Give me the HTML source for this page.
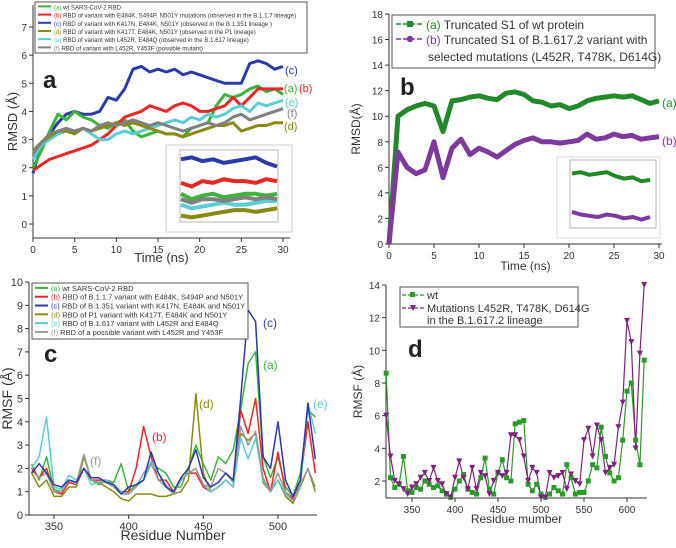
<!DOCTYPE html>
<html><head><meta charset="utf-8"><style>
body{margin:0;background:#fff;width:676px;height:543px;overflow:hidden;font-family:"Liberation Sans",sans-serif}
svg text{font-family:"Liberation Sans",sans-serif}
</style></head><body>
<svg id="fig" width="676" height="543" viewBox="0 0 676 543" xmlns="http://www.w3.org/2000/svg"></svg>
<script>
// ---------- Panel a data (time ns, RMSD Å) ----------
const timeA=[0,1,2,3,4,5,6,7,8,9,10,11,12,13,14,15,16,17,18,19,20,21,22,23,24,25,26,27,28,29,30];
const aWt=[2.0,2.6,3.3,3.9,3.7,4.0,3.8,3.7,3.5,3.4,3.6,3.7,3.3,3.1,3.2,3.3,3.2,3.2,3.1,3.4,3.5,3.6,4.2,4.6,4.5,4.6,4.8,4.9,4.7,4.8,4.6];
const aB117=[1.9,2.1,2.3,2.4,2.5,2.6,2.7,2.8,3.0,3.2,3.5,3.8,3.9,4.0,4.2,4.1,4.0,4.2,4.3,4.2,4.0,4.0,4.1,4.2,4.5,4.2,4.5,4.8,4.8,4.8,4.8];
const aB1351=[1.8,2.8,3.2,3.6,3.9,4.0,3.9,3.9,4.0,4.5,4.4,4.8,5.5,5.6,5.4,5.5,5.4,5.5,5.3,5.4,5.3,5.2,5.1,5.0,5.0,5.0,5.7,5.8,5.7,5.5,5.6];
const aP1=[2.6,2.9,3.1,3.3,3.3,3.2,3.4,3.3,3.4,3.5,3.6,3.5,3.6,3.5,3.4,3.3,3.2,3.2,3.1,3.2,3.3,3.4,3.5,3.5,3.6,3.3,3.4,3.5,3.5,3.6,3.6];
const aB1617=[2.3,2.8,3.0,3.2,3.3,3.3,3.4,3.2,3.0,3.0,3.2,3.3,3.2,3.3,3.4,3.5,3.6,3.7,3.6,3.8,3.7,3.9,3.8,3.9,4.1,4.2,4.0,4.3,4.2,4.3,4.4];
const aPossible=[2.5,2.9,3.2,3.3,3.4,3.3,3.4,3.3,3.5,3.6,3.5,3.6,3.7,3.6,3.5,3.6,3.5,3.4,3.3,3.4,3.5,3.6,3.5,3.6,3.8,3.9,3.7,3.8,3.9,4.0,4.1];
const aTicksX=[0,5,10,15,20,25,30];
const aTicksY=[0,1,2,3,4,5,6,7];
// ---------- Panel b data ----------
const timeB=[0,1,2,3,4,5,6,7,8,9,10,11,12,13,14,15,16,17,18,19,20,21,22,23,24,25,26,27,28,29,30];
const bWt=[0,10,10.5,10.8,11,10.8,8.8,11.2,11.3,11.5,11.6,11.4,11.3,11.8,11.9,11.7,11.2,11.1,10.8,10.9,10.6,10.8,11.2,11.4,11.5,11.6,11.5,11.6,11.3,11.0,11.2];
const bMut=[0,7.2,6.0,5.5,5.8,8.0,5.2,7.5,8.2,7.0,7.5,7.2,6.8,7.3,7.8,8.1,8.3,8.0,8.0,7.9,8.0,8.1,8.6,8.2,8.3,8.6,8.4,8.5,8.2,8.3,8.4];
const bTicksX=[0,5,10,15,20,25,30];
const bTicksY=[0,2,4,6,8,10,12,14,16,18];
// ---------- Panel c data (residue, RMSF) ----------
const resC=[335,340,345,350,355,360,365,370,375,380,385,390,395,400,405,410,415,420,425,430,435,440,445,450,455,460,465,470,475,480,485,490,495,500,505,510,515,520,525];
const cWt=[2.2,1.5,2.5,1.1,1.0,1.5,1.4,2.0,1.5,1.3,1.5,1.4,2.2,1.0,1.3,1.5,2.2,2.0,1.8,1.2,1.2,2.0,3.0,2.2,1.5,2.5,2.2,2.8,4.5,6.5,7.0,2.5,1.6,2.5,1.2,0.8,1.8,4.5,4.2];
const cB117=[2.0,1.6,2.0,1.0,0.9,1.4,1.3,2.0,1.5,1.5,1.5,1.3,1.0,1.0,2.0,3.8,2.5,1.5,1.5,1.0,1.5,1.8,1.8,1.2,1.0,1.2,1.5,1.2,4.5,3.5,5.0,2.0,1.0,2.7,1.0,0.7,1.5,4.0,1.8];
const cB1351=[1.8,2.2,1.8,1.3,1.2,1.5,1.4,2.0,1.6,1.6,1.4,1.3,0.9,1.2,1.3,1.5,2.7,1.8,1.2,1.0,1.6,2.0,2.8,1.6,1.2,1.4,1.8,1.5,5.0,8.8,8.3,2.5,2.0,4.0,1.5,0.8,1.5,4.8,2.4];
const cP1=[1.8,1.2,1.5,0.8,0.8,1.2,1.2,2.5,1.5,1.4,1.2,1.0,0.7,0.6,0.9,0.9,0.9,0.8,0.8,0.9,1.0,1.5,5.2,1.8,1.0,1.2,1.5,1.2,3.5,3.2,3.5,1.4,1.0,1.5,0.8,0.5,1.2,2.0,1.0];
const cB1617=[2.0,2.5,4.2,1.2,1.1,1.7,1.5,2.0,1.3,1.4,1.5,1.3,1.0,0.9,1.2,1.5,2.3,1.8,1.3,0.9,1.5,1.8,2.0,1.3,1.0,1.2,1.5,1.2,3.3,2.4,3.3,1.5,1.0,1.5,0.9,0.6,1.2,4.8,3.5];
const cPossible=[1.9,1.6,1.8,1.0,1.0,1.5,1.4,2.6,1.5,1.4,1.4,1.2,0.9,0.9,1.2,1.8,2.2,1.5,1.2,0.9,1.5,1.8,2.0,1.3,1.2,2.0,1.8,1.4,3.8,3.0,3.6,1.6,1.0,1.8,1.0,0.6,1.3,2.0,1.2];
const cTicksX=[350,400,450,500];
const cTicksY=[0,1,2,3,4,5,6,7,8,9,10];
// ---------- Panel d data ----------
const resD=[320,325,330,335,340,345,350,355,360,365,370,375,380,385,390,395,400,405,410,415,420,425,430,435,440,445,450,455,460,465,470,475,480,485,490,495,500,505,510,515,520,525,530,535,540,545,550,555,560,565,570,575,580,585,590,595,600,605,610,615,620];
const dWt=[8.6,2.2,1.6,1.8,3.5,1.4,1.3,1.6,1.5,2.0,1.8,1.6,1.7,1.4,1.2,1.0,1.5,2.0,2.4,1.5,1.3,1.2,2.2,3.4,1.5,1.2,2.5,3.3,2.2,2.0,5.5,5.6,5.7,1.8,1.4,1.8,1.2,0.9,1.2,1.6,1.4,1.2,3.0,2.2,1.2,1.3,1.3,2.0,3.0,2.8,5.3,3.5,2.5,2.0,2.2,4.5,7.5,8.0,4.5,3.0,9.4];
const dMut=[6.0,3.5,2.0,1.8,1.5,1.2,1.6,1.8,2.2,2.5,2.0,2.8,2.0,1.8,1.2,1.0,2.2,3.2,2.2,1.5,2.8,1.5,2.5,2.3,1.2,2.0,2.5,2.3,2.5,4.8,4.8,4.5,3.5,2.0,2.8,2.5,1.0,1.0,2.5,2.2,2.3,2.5,1.5,2.4,2.0,1.8,4.5,5.2,3.5,5.4,4.5,2.5,2.8,3.0,5.3,6.8,11.8,10.5,4.0,9.8,14];
const dTicksX=[350,400,450,500,550,600];
const dTicksY=[2,4,6,8,10,12,14];
// ---------- insets ----------
const insA=[[5.8,5.9,5.7,5.8,5.6,5.7,5.8,5.9,5.6,5.4],[4.5,4.3,4.6,4.5,4.7,4.6,4.6,4.5,4.7,4.6],[3.9,3.6,3.8,3.9,3.7,3.8,3.9,3.9,3.8,3.9],[3.3,3.1,3.2,3.3,3.4,3.3,3.3,3.4,3.5,3.5],[3.6,3.4,3.6,3.6,3.5,3.6,3.7,3.6,3.7,3.6],[2.7,2.6,2.7,2.8,2.9,3.0,3.0,2.9,3.0,3.1]];
const insB=[[11.6,11.7,11.5,11.6,11.7,11.4,11.2,11.3,11.0,11.1],[8.6,8.4,8.3,8.2,8.4,8.3,8.1,8.2,8.0,8.2]];

const svg=document.getElementById('fig');
const NS='http://www.w3.org/2000/svg';
function el(tag,attrs,parent){const e=document.createElementNS(NS,tag);for(const k in attrs)e.setAttribute(k,attrs[k]);(parent||svg).appendChild(e);return e;}
function txt(s,x,y,size,fill,extra,parent){const t=el('text',Object.assign({x:x,y:y,'font-size':size,fill:fill||'#222'},extra||{}),parent);t.textContent=s;return t;}
function scale(d0,d1,r0,r1){return v=>r0+(v-d0)*(r1-r0)/(d1-d0);}

function axes(p){
  const g=el('g',{});
  
  
  el('line',{x1:p.x0,y1:p.yb,x2:p.x1,y2:p.yb,stroke:'#333','stroke-width':1},g);
  el('line',{x1:p.x0,y1:p.yb,x2:p.x0,y2:p.yt,stroke:'#333','stroke-width':1},g);
  p.tx.forEach(v=>{const x=p.sx(v);el('line',{x1:x,y1:p.yb,x2:x,y2:p.yb+4,stroke:'#333'},g);
    const t=txt(String(v),x,p.yb+15,p.fs,'#333',{'text-anchor':'middle'},g);});
  p.ty.forEach(v=>{const y=p.sy(v);el('line',{x1:p.x0-4,y1:y,x2:p.x0,y2:y,stroke:'#333'},g);
    const t=txt(String(v),p.x0-6,y+4,p.fs,'#333',{'text-anchor':'end'},g);});
  const xt=txt(p.xl,(p.x0+p.x1)/2,p.xly,p.tfs,'#333',{'text-anchor':'middle'},g);
  
  const yt=txt(p.yl,0,0,p.tfs,'#333',{'text-anchor':'middle',transform:`translate(${p.ylx},${(p.yt+p.yb)/2}) rotate(-90)`},g);
  
}
function line(xs,ys,sx,sy,color,w,name,clipMin){
  const pts=xs.map((x,i)=>sx(x).toFixed(1)+','+sy(clipMin!==undefined?Math.max(clipMin,ys[i]):ys[i]).toFixed(1)).join(' ');
  const l=el('polyline',{points:pts,fill:'none',stroke:color,'stroke-width':w,'stroke-linejoin':'round'});
  
  
  return l;
}
function legend(x,y,w,h,items,fs,lh){
  const g=el('g',{});
  
  
  el('rect',{x:x,y:y,width:w,height:h,fill:'#fff',stroke:'#555','stroke-width':1},g);
  items.forEach((it,i)=>{const yy=y+lh*0.9+i*lh;
    el('line',{x1:x+3,y1:yy-3,x2:x+16,y2:yy-3,stroke:it.c,'stroke-width':2},g);
    const t=el('text',{x:x+19,y:yy,'font-size':fs,fill:'#333'},g);
    const s1=el('tspan',{fill:it.c},t);s1.textContent=it.k+' ';
    const s2=el('tspan',{},t);s2.textContent=it.t;
    
  });
}
function label(s,x,y,size,color,name,bold){const t=txt(s,x,y,size,color,bold?{'font-weight':'bold'}:{});}

// ===== Panel a =====
const A={name:'panel-a',x0:33,x1:290,yb:238,yt:5,sx:scale(0,30,33,283),sy:scale(0,7,224,27),tx:aTicksX,ty:aTicksY,fs:10,tfs:13,xl:'Time (ns)',xly:262,yl:'RMSD (Å)',ylx:17};
axes(A);
const colA={a:'#3cb43c',b:'#e82626',c:'#2b3aa6',d:'#8a8a12',e:'#5ccdd2',f:'#808080'};
line(timeA,aB1351,A.sx,A.sy,colA.c,3,'series-c-b1351');
line(timeA,aWt,A.sx,A.sy,colA.a,3,'series-a-wt');
line(timeA,aB117,A.sx,A.sy,colA.b,3,'series-b-b117');
line(timeA,aB1617,A.sx,A.sy,colA.e,3,'series-e-b1617');
line(timeA,aP1,A.sx,A.sy,colA.d,3,'series-d-p1');
line(timeA,aPossible,A.sx,A.sy,colA.f,3,'series-f-possible');
legend(35,2,272,51,[
 {k:'(a)',c:colA.a,t:'wt SARS-CoV-2 RBD'},
 {k:'(b)',c:colA.b,t:'RBD of variant with E484K, S494P, N501Y mutations (observed in the B.1.1.7 lineage)'},
 {k:'(c)',c:colA.c,t:'RBD of variant with K417N, E484K, N501Y (observed in the B.1.351 lineage )'},
 {k:'(d)',c:colA.d,t:'RBD of variant with K417T, E484K, N501Y (observed in the P1 lineage)'},
 {k:'(e)',c:colA.e,t:'RBD of variant with L452R, E484Q (observed in the B.1.617 lineage)'},
 {k:'(f)',c:colA.f,t:'RBD of variant with L452R, Y453F (possible mutant)'}],6.1,8.2);
label('a',43,88,24,'#222','panel-a-letter',true);
label('(c)',285,74,11,colA.c,'label-c');
label('(a)',284,92,11,colA.a,'label-a');label('(b)',299,92,11,colA.b,'label-b');
label('(e)',285,106,11,colA.e,'label-e');
label('(f)',287,117,11,colA.f,'label-f');
label('(d)',284,130,11,colA.d,'label-d');
// inset a
(function(){const g=el('g',{});
 el('rect',{x:166,y:145,width:126,height:87,fill:'#fff',stroke:'#ccc'},g);
 el('rect',{x:180,y:150,width:98,height:72,fill:'none',stroke:'#888','stroke-width':0.6},g);
 const sx=scale(0,9,181,277),sy=scale(2.4,6.2,221,152);const ix=[0,1,2,3,4,5,6,7,8,9];
 const cs=[colA.c,colA.b,colA.a,colA.e,colA.f,colA.d];
 insA.forEach((s,i)=>{const l=line(ix,s,sx,sy,cs[i],4,'inset-a-series');g.appendChild(l);});})();

// ===== Panel b =====
const B={name:'panel-b',x0:389,x1:662,yb:244,yt:14,sx:scale(0,30,389,659),sy:scale(0,18,244,14),tx:bTicksX,ty:bTicksY,fs:10,tfs:12,xl:'Time (ns)',xly:270,yl:'RMSD(Å)',ylx:360};
axes(B);
line(timeB,bWt,B.sx,B.sy,'#22882a',5,'series-b-a-wt');
line(timeB,bMut,B.sx,B.sy,'#7b3a9c',5,'series-b-b-mut');
(function(){const g=el('g',{});
 el('rect',{x:392,y:15,width:263,height:53,fill:'#fff',stroke:'#555'},g);
 el('line',{x1:396,y1:24,x2:423,y2:24,stroke:'#22882a','stroke-width':1.5,'stroke-dasharray':'5,2'},g);
 el('rect',{x:407,y:21,width:6,height:6,fill:'#22882a'},g);
 el('line',{x1:396,y1:39,x2:423,y2:39,stroke:'#7b3a9c','stroke-width':1.5,'stroke-dasharray':'5,2'},g);
 el('circle',{cx:410,cy:39,r:3.2,fill:'#7b3a9c'},g);
 let t=el('text',{x:426,y:29,'font-size':12,fill:'#333'},g);let s=el('tspan',{fill:'#22882a'},t);s.textContent='(a) ';s=el('tspan',{},t);s.textContent='Truncated S1 of wt protein';
 
 t=el('text',{x:426,y:44,'font-size':12,fill:'#333'},g);s=el('tspan',{fill:'#7b3a9c'},t);s.textContent='(b) ';s=el('tspan',{},t);s.textContent='Truncated S1 of B.1.617.2 variant with';
 
 t=el('text',{x:428,y:61,'font-size':12,fill:'#333'},g);t.textContent='selected mutations (L452R, T478K, D614G)';
})();
label('b',400,95,24,'#222','panel-b-letter',true);
label('(a)',662,107,12,'#22882a','label-b-a');
label('(b)',662,145,12,'#7b3a9c','label-b-b');
(function(){const g=el('g',{});
 el('rect',{x:557,y:157,width:103,height:81,fill:'#fff',stroke:'#ddd'},g);
 el('rect',{x:570,y:160,width:86,height:68,fill:'none',stroke:'#888','stroke-width':0.6},g);
 const sx=scale(0,9,572,650),sy=scale(7.5,12.5,226,162);const ix=[0,1,2,3,4,5,6,7,8,9];
 line(ix,insB[0],sx,sy,'#22882a',4,'inset-b-series');line(ix,insB[1],sx,sy,'#7b3a9c',4,'inset-b-series');})();

// ===== Panel c =====
const C={name:'panel-c',x0:29,x1:317,yb:515,yt:282,sx:scale(350,500,54,278),sy:scale(0,10,515,282),tx:cTicksX,ty:cTicksY,fs:11,tfs:14,xl:'Residue Number',xly:540,yl:'RMSF (Å)',ylx:12};
axes(C);
const colC=colA;
line(resC,cWt,C.sx,C.sy,colC.a,1.5,'series-c-a-wt');
line(resC,cB117,C.sx,C.sy,colC.b,1.5,'series-c-b-b117');
line(resC,cP1,C.sx,C.sy,colC.d,1.5,'series-c-d-p1');
line(resC,cB1617,C.sx,C.sy,colC.e,1.5,'series-c-e-b1617');
line(resC,cPossible,C.sx,C.sy,'#999',1.5,'series-c-f-possible');
line(resC,cB1351,C.sx,C.sy,colC.c,1.5,'series-c-c-b1351');
legend(32,283,216,56,[
 {k:'(a)',c:colC.a,t:'wt SARS-CoV-2 RBD'},
 {k:'(b)',c:colC.b,t:'RBD of B.1.1.7 variant with E484K, S494P and N501Y'},
 {k:'(c)',c:colC.c,t:'RBD of B.1.351 variant with K417N, E484K and N501Y'},
 {k:'(d)',c:colC.d,t:'RBD of P1 variant with K417T, E484K and N501Y'},
 {k:'(e)',c:colC.e,t:'RBD of B.1.617 variant with L452R and E484Q'},
 {k:'(f)',c:'#999',t:'RBD of a possible variant with L452R and Y453F'}],7.5,8.8);
label('c',44,362,24,'#222','panel-c-letter',true);
label('(c)',263,327,12,colC.c,'label-c-c');
label('(a)',263,369,12,colC.a,'label-c-a');
label('(d)',199,408,12,colC.d,'label-c-d');
label('(b)',152,441,12,colC.b,'label-c-b');
label('(f)',90,465,12,'#999','label-c-f');
label('(e)',313,408,12,colC.e,'label-c-e');

// ===== Panel d =====
const D={name:'panel-d',x0:386,x1:647,yb:498,yt:285,sx:scale(350,600,412,627),sy:scale(2,14,481,285),tx:dTicksX,ty:dTicksY,fs:10,tfs:12,xl:'Residue mumber',xly:523,yl:'RMSF (Å)',ylx:362};
axes(D);
line(resD,dWt,D.sx,D.sy,'#2a9a2a',1.2,'series-d-wt',1);
line(resD,dMut,D.sx,D.sy,'#7d237d',1.2,'series-d-mut',1);
resD.forEach((r,i)=>{const x=D.sx(r),y=D.sy(Math.max(1,dWt[i]));
  const m=el('rect',{x:x-2.5,y:y-2.5,width:5,height:5,fill:'#2a9a2a'});
  
  });
resD.forEach((r,i)=>{const x=D.sx(r),y=D.sy(Math.max(1,dMut[i]));
  const m=el('polygon',{points:`${x-3},${y-3} ${x+3},${y-3} ${x},${y+3}`,fill:'#7d237d'});
  
  });
(function(){const g=el('g',{});
 el('rect',{x:400,y:287,width:178,height:40,fill:'#fff',stroke:'#555'},g);
 el('line',{x1:402,y1:295,x2:424,y2:295,stroke:'#2a9a2a','stroke-width':1.2,'stroke-dasharray':'4,2'},g);
 el('rect',{x:410,y:292,width:5,height:5,fill:'#2a9a2a'},g);
 el('line',{x1:402,y1:308,x2:424,y2:308,stroke:'#7d237d','stroke-width':1.2,'stroke-dasharray':'4,2'},g);
 el('polygon',{points:'410,305 416,305 413,311',fill:'#7d237d'},g);
 let t=el('text',{x:427,y:299,'font-size':11,fill:'#333'},g);t.textContent='wt';
 t=el('text',{x:427,y:312,'font-size':11,fill:'#333'},g);t.textContent='Mutations L452R, T478K, D614G';
 t=el('text',{x:427,y:324,'font-size':11,fill:'#333'},g);t.textContent='in the B.1.617.2 lineage';
})();
label('d',408,357,24,'#222','panel-d-letter',true);
</script>
</body></html>
